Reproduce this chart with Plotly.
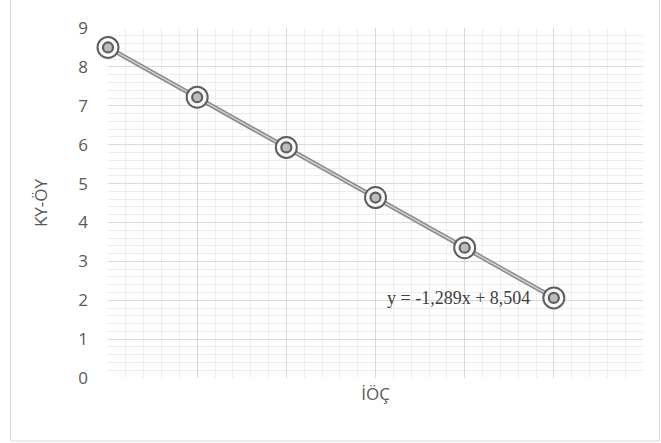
import plotly.graph_objects as go

x_vals = [0, 1, 2, 3, 4, 5]
y_vals = [8.50, 7.22, 5.93, 4.64, 3.35, 2.06]
y_ticks = [0, 1, 2, 3, 4, 5, 6, 7, 8, 9]
x_title = "İÖÇ"
y_title = "KY-ÖY"
equation = "y = -1,289x + 8,504"

fig = go.Figure()
# trendline / series line (double-line look)
fig.add_trace(go.Scatter(x=x_vals, y=y_vals, mode="lines", cliponaxis=False,
                         line=dict(color="#8c8c8c", width=4.5), hoverinfo="skip"))
fig.add_trace(go.Scatter(x=x_vals, y=y_vals, mode="lines", cliponaxis=False,
                         line=dict(color="#d0d0d0", width=1.5), hoverinfo="skip"))
# markers: outer ring
fig.add_trace(go.Scatter(x=x_vals, y=y_vals, mode="markers", cliponaxis=False,
                         marker=dict(symbol="circle", size=21, color="#fafafa",
                                     line=dict(color="#5e5e5e", width=2))))
# inner ring
fig.add_trace(go.Scatter(x=x_vals, y=y_vals, mode="markers", cliponaxis=False,
                         marker=dict(symbol="circle", size=10, color="#bdbdbd",
                                     line=dict(color="#5e5e5e", width=2.2))))

fig.add_annotation(x=x_vals[-1], y=y_vals[-1], xref="x", yref="y",
                   text=equation, showarrow=False, xanchor="right",
                   xshift=-22, yshift=0,
                   font=dict(family="Liberation Serif", size=18, color="#404040"))

grid_major = "#d9d9d9"
grid_minor = "#ececec"
fig.update_xaxes(range=[0, 6], dtick=1, tick0=0, showticklabels=False,
                 showgrid=True, gridcolor=grid_major, gridwidth=1,
                 zeroline=False, showline=False, ticks="", automargin=False,
                 minor=dict(dtick=0.2, showgrid=True, gridcolor=grid_minor, gridwidth=1),
                 title=dict(text=x_title, standoff=10,
                            font=dict(family="Open Sans", size=17, color="#595959")))
fig.update_yaxes(range=[0, 9], tickvals=y_ticks, showgrid=True,
                 gridcolor=grid_major, gridwidth=1, zeroline=False, showline=False,
                 ticks="", ticklabelstandoff=19, automargin=False,
                 tickfont=dict(family="Open Sans", size=17, color="#595959"),
                 minor=dict(dtick=0.2, showgrid=True, gridcolor=grid_minor, gridwidth=1),
                 title=dict(text=y_title, standoff=26,
                            font=dict(family="Open Sans", size=17, color="#595959")))

W, H = 661, 443
ml, mr, mt, mb = 108, 18, 28, 65
pw, ph = W - ml - mr, H - mt - mb
fig.add_shape(type="rect", xref="paper", yref="paper",
              x0=(10.5 - ml) / pw, x1=(W - 1.5 - ml) / pw,
              y0=-(mb - 2) / ph, y1=(H - mt - 1.5) / ph,
              line=dict(color="#d9d9d9", width=1), layer="below")

fig.update_layout(width=W, height=H, margin=dict(l=ml, r=mr, t=mt, b=mb),
                  plot_bgcolor="white", paper_bgcolor="white", showlegend=False)
fig.write_html("out.html", config={"displayModeBar": False},
               post_script="document.body.style.margin='0';document.body.style.overflow='hidden';")
